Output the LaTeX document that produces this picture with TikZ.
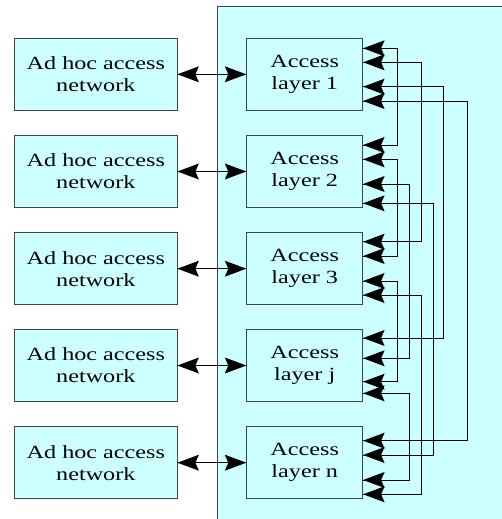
\documentclass[tikz,border=0pt]{standalone}
\usepackage{fontspec}
\setmainfont[FakeStretch=1.3]{Liberation Serif}
\definecolor{boxfill}{RGB}{204,255,255}
\definecolor{edge}{RGB}{60,70,70}
\tikzset{
  netbox/.style={draw=edge, fill=boxfill, line width=0.8pt,
    minimum width=162.3pt, minimum height=72pt, inner sep=0pt,
    align=center, font=\fontsize{18.6}{22}\selectfont},
  layerbox/.style={netbox, minimum width=116pt},
  link/.style={line width=0.9pt, draw=black}
}
% large filled arrowhead with a shallow notch at the back
\newcommand{\headat}[2]{% #1 = tip point, #2 = direction angle
  \fill[black, shift={(#1)}, rotate=#2]
    (0,0) -- (-21.5,-8) -- (-18,0) -- (-21.5,8) -- cycle;}
\begin{document}
\begin{tikzpicture}[x=1pt,y=-1pt]
\useasboundingbox (0,0) rectangle (502,519);
\clip (0,0) rectangle (502,519);

% backbone panel holding the access layers
\draw[draw=edge, fill=boxfill, line width=0.8pt] (217.3,6.7) rectangle (530,540);

% ad hoc access networks
\node[netbox] (n1) at (95.85,74.3)  {Ad hoc access\\network};
\node[netbox] (n2) at (95.85,171.5) {Ad hoc access\\network};
\node[netbox] (n3) at (95.85,268.7) {Ad hoc access\\network};
\node[netbox] (n4) at (95.85,365.5) {Ad hoc access\\network};
\node[netbox] (n5) at (95.85,462.7) {Ad hoc access\\network};

% access layers
\node[layerbox] (l1) at (304.7,74.3)  {Access\\layer 1};
\node[layerbox] (l2) at (304.7,171.5) {Access\\layer 2};
\node[layerbox] (l3) at (304.7,268.7) {Access\\layer 3};
\node[layerbox] (l4) at (304.7,365.5) {Access\\layer j};
\node[layerbox] (l5) at (304.7,462.7) {Access\\layer n};

% network <-> access layer links, heads at both box borders
\foreach \i in {1,...,5} {
  \draw[link] (n\i.east) -- (l\i.west);
  \headat{n\i.east}{180}
  \headat{l\i.west}{0}
}

% ports on the right side of each access layer
\coordinate (p1a) at (363.1,48.3);
\coordinate (p1b) at (363.1,62.3);
\coordinate (p1c) at (363.1,86.7);
\coordinate (p1d) at (363.1,101);
\coordinate (p2a) at (363.1,145);
\coordinate (p2b) at (363.1,159.3);
\coordinate (p2c) at (363.1,184);
\coordinate (p2d) at (363.1,203.3);
\coordinate (p3a) at (363.1,241.7);
\coordinate (p3b) at (363.1,256);
\coordinate (p3c) at (363.1,281);
\coordinate (p3d) at (363.1,295);
\coordinate (p4a) at (363.1,338);
\coordinate (p4b) at (363.1,358.3);
\coordinate (p4c) at (363.1,381.7);
\coordinate (p4d) at (363.1,393.3);
\coordinate (p5a) at (363.1,440.7);
\coordinate (p5b) at (363.1,455);
\coordinate (p5c) at (363.1,480);
\coordinate (p5d) at (363.1,494.3);

% routing columns
\coordinate (cA) at (397,0);
\coordinate (cB) at (409,0);
\coordinate (cC) at (421,0);
\coordinate (cD) at (433,0);
\coordinate (cE) at (443,0);
\coordinate (cF) at (467,0);

% full mesh between the access layers
\draw[link] (p1a) -- (p1a -| cA) |- (p2a);
\draw[link] (p1b) -- (p1b -| cC) |- (p3a);
\draw[link] (p1c) -- (p1c -| cE) |- (p4a);
\draw[link] (p1d) -- (p1d -| cF) |- (p5a);
\draw[link] (p2b) -- (p2b -| cA) |- (p3b);
\draw[link] (p2c) -- (p2c -| cB) |- (p4b);
\draw[link] (p2d) -- (p2d -| cD) |- (p5b);
\draw[link] (p3c) -- (p3c -| cA) |- (p4c);
\draw[link] (p3d) -- (p3d -| cC) |- (p5d);
\draw[link] (p4d) -- (p4d -| cB) |- (p5c);

% arrowheads on every port, pointing into the layer box
\foreach \k in {1,...,5} {
  \foreach \s in {a,b,c,d} {
    \headat{p\k\s}{180}
  }
}
\end{tikzpicture}
\end{document}
